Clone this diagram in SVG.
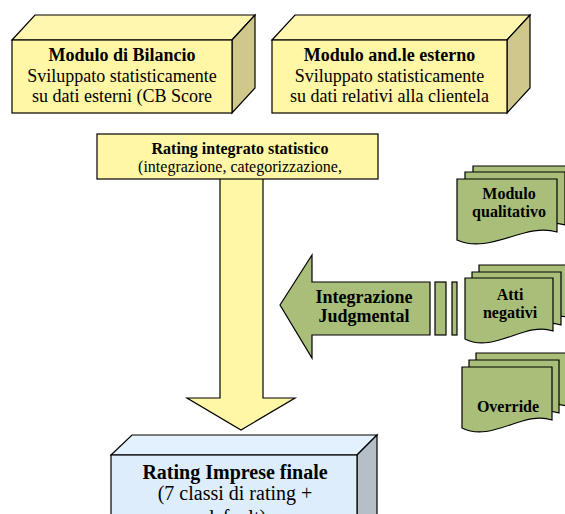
<svg xmlns="http://www.w3.org/2000/svg" width="565" height="514" viewBox="0 0 565 514">
<defs>
<style>
text{font-family:"Liberation Serif","Times New Roman",serif;fill:#000;text-anchor:middle}
.b{font-weight:bold}
.ln{stroke:#000;stroke-width:1.2;stroke-linejoin:miter}
.yf{fill:#FFF6A6}
.yt{fill:#FFF7B0}
.ys{fill:#CFC88A}
.g{fill:#A9BF79}
.bf{fill:#DDEDFC}
.bt{fill:#E3F0FD}
.bs{fill:#B4BFC8}
</style>
</defs>
<g id="connectors">
<polygon class="yf ln" points="220,175 263,175 263,398 295,398 241,430 187,398 220,398"/>
<polygon class="g ln" points="280,305 312,255 312,282 430,282 430,335 312,335 312,358"/>
<rect class="g ln" x="435" y="282" width="11" height="53"/>
<rect class="g ln" x="452" y="282" width="5" height="53"/>
</g>
<g id="bilancio">
<polygon class="yt ln" points="12,40 35,15 255,15 232,40"/>
<polygon class="ys ln" points="232,40 255,15 255,88 232,113"/>
<rect class="yf ln" x="12" y="40" width="220" height="73"/>
<text x="122" y="61" class="b" font-size="18">Modulo di Bilancio</text>
<text x="122" y="82" font-size="18">Sviluppato statisticamente</text>
<text x="122" y="102" font-size="18">su dati esterni (CB Score</text>
</g>
<g id="andamentale">
<polygon class="yt ln" points="272,40 295,15 530,15 507,40"/>
<polygon class="ys ln" points="507,40 530,15 530,88 507,113"/>
<rect class="yf ln" x="272" y="40" width="235" height="73"/>
<text x="389.5" y="61" class="b" font-size="18">Modulo and.le esterno</text>
<text x="389.5" y="82" font-size="18">Sviluppato statisticamente</text>
<text x="389.5" y="102" font-size="18">su dati relativi alla clientela</text>
</g>
<g id="rating-integrato">
<rect class="yf ln" x="97" y="134" width="281" height="45"/>
<text x="240" y="154" class="b" font-size="16">Rating integrato statistico</text>
<text x="240" y="172" font-size="16">(integrazione, categorizzazione,</text>
</g>
<g id="integrazione">
<text x="364" y="303" class="b" font-size="18">Integrazione</text>
<text x="364" y="322" class="b" font-size="18">Judgmental</text>
</g>
<g id="modulo-qualitativo">
<path class="g ln" d="M473,166 H573 V219 C541,209 506,242 473,227 Z"/>
<path class="g ln" d="M465,172 H565 V225 C533,215 498,248 465,233 Z"/>
<path class="g ln" d="M457,179 H557 V232 C525,222 490,255 457,240 Z"/>
<text x="509" y="199" class="b" font-size="16">Modulo</text>
<text x="509" y="217" class="b" font-size="16">qualitativo</text>
</g>
<g id="atti-negativi">
<path class="g ln" d="M479,265 H570 V318 C541,308 509,341 479,326 Z"/>
<path class="g ln" d="M472,272 H561 V325 C532,315 502,348 472,333 Z"/>
<path class="g ln" d="M465,278 H553 V331 C525,321 494,354 465,339 Z"/>
<text x="510" y="300" class="b" font-size="16">Atti</text>
<text x="510" y="318" class="b" font-size="16">negativi</text>
</g>
<g id="override">
<path class="g ln" d="M476,353 H566 V406 C537,396 506,429 476,414 Z"/>
<path class="g ln" d="M469,360 H559 V413 C530,403 499,436 469,421 Z"/>
<path class="g ln" d="M462,367 H552 V420 C523,410 492,443 462,428 Z"/>
<text x="508" y="412" class="b" font-size="16">Override</text>
</g>
<g id="rating-finale">
<polygon class="bt ln" points="111,455 132,435 377,435 357,455"/>
<polygon class="bs ln" points="357,455 377,435 377,520 357,540"/>
<rect class="bf ln" x="111" y="455" width="246" height="80"/>
<text x="235" y="479" class="b" font-size="20">Rating Imprese finale</text>
<text x="235" y="500" font-size="20">(7 classi di rating +</text>
<text x="235" y="524" font-size="20">default)</text>
</g>
</svg>
